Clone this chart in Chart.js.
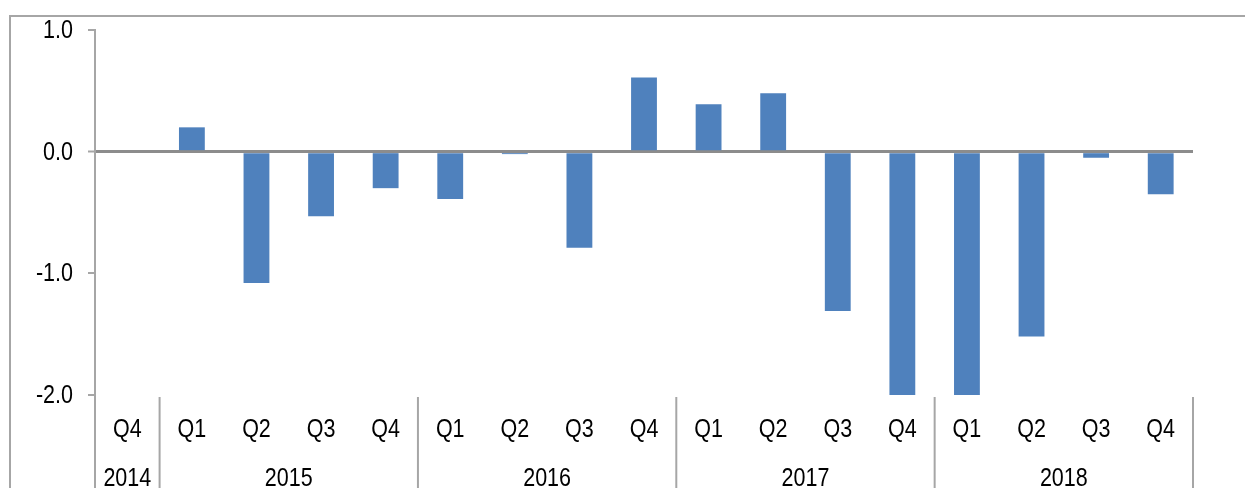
<!DOCTYPE html>
<html>
<head>
<meta charset="utf-8">
<script src="https://cdn.jsdelivr.net/npm/chart.js@4"></script>
<style>
  html, body { margin: 0; padding: 0; background: #fff; overflow: hidden; }
  #frame { position: absolute; left: 9px; top: 15px; width: 1400px; height: 600px; border: 2px solid #a6a6a6; box-sizing: border-box; }
  #wrap { position: absolute; left: 0; top: 0; width: 1245px; height: 488px; }
</style>
</head>
<body>
<div id="frame"></div>
<div id="wrap"><canvas id="chart" width="1245" height="488"></canvas></div>
<script>
const quarters = ["Q4", "Q1", "Q2", "Q3", "Q4", "Q1", "Q2", "Q3", "Q4", "Q1", "Q2", "Q3", "Q4", "Q1", "Q2", "Q3", "Q4"];
const values = [0, 0.2, -1.08, -0.53, -0.3, -0.39, -0.02, -0.79, 0.61, 0.39, 0.48, -1.31, -2.3, -2.2, -1.52, -0.05, -0.35];
const years = ["2014", "2015", "2016", "2017", "2018"];
const yearStart = [0, 1, 5, 9, 13];
const yearEnd = [0, 4, 8, 12, 16];

const lineGray = "#a6a6a6";
const fontFamily = "'Liberation Sans', Arial, sans-serif";
const fontSize = 25;
const squeeze = 0.86; // the source font is a narrow Arial

function narrowText(ctx, text, x, y, align) {
  ctx.save();
  ctx.translate(x, y);
  ctx.scale(squeeze, 1);
  ctx.textAlign = align;
  ctx.fillText(text, 0, 0);
  ctx.restore();
}

// axis labels, year row and separators
const axisText = {
  id: "axisText",
  afterDraw(chart) {
    const x = chart.scales.x;
    const y = chart.scales.y;
    const area = chart.chartArea;
    const ctx = chart.ctx;
    const half = (x.getPixelForValue(1) - x.getPixelForValue(0)) / 2;
    ctx.save();
    ctx.strokeStyle = lineGray;
    ctx.lineWidth = 2;
    // y axis line continues down
    ctx.beginPath();
    ctx.moveTo(area.left, area.bottom);
    ctx.lineTo(area.left, chart.height);
    ctx.stroke();
    yearEnd.forEach((e) => {
      const px = x.getPixelForValue(e) + half;
      ctx.beginPath();
      ctx.moveTo(px, area.bottom + 2);
      ctx.lineTo(px, chart.height);
      ctx.stroke();
    });
    ctx.fillStyle = "#000";
    ctx.font = fontSize + "px " + fontFamily;
    ctx.textBaseline = "alphabetic";
    y.ticks.forEach((t) => {
      narrowText(ctx, t.value.toFixed(1), area.left - 22, y.getPixelForValue(t.value) + 8, "right");
    });
    quarters.forEach((q, i) => {
      narrowText(ctx, q, x.getPixelForValue(i), area.bottom + 42, "center");
    });
    years.forEach((yr, i) => {
      const cx = (x.getPixelForValue(yearStart[i]) + x.getPixelForValue(yearEnd[i])) / 2;
      narrowText(ctx, yr, cx, area.bottom + 91, "center");
    });
    ctx.restore();
  }
};

new Chart(document.getElementById("chart"), {
  type: "bar",
  data: {
    labels: quarters,
    datasets: [{
      data: values,
      backgroundColor: "#4f81bd",
      barPercentage: 0.4,
      categoryPercentage: 1
    }]
  },
  options: {
    responsive: false,
    animation: false,
    layout: { padding: { left: 0, top: 30, right: 52, bottom: 0 } },
    plugins: { legend: { display: false }, tooltip: { enabled: false } },
    scales: {
      x: {
        grid: { display: false, drawTicks: false },
        border: { display: false },
        ticks: { display: false },
        afterFit(s) { s.height = 93; }
      },
      y: {
        min: -2,
        max: 1,
        ticks: { display: false, stepSize: 1 },
        grid: {
          color: (c) => (c.tick && c.tick.value === 0 ? "#8c8c8c" : "rgba(0,0,0,0)"),
          lineWidth: (c) => (c.tick && c.tick.value === 0 ? 3 : 0),
          tickColor: lineGray,
          tickLength: 7,
          tickWidth: 2
        },
        border: { display: true, color: lineGray, width: 2 },
        afterFit(s) { s.width = 95; }
      }
    }
  },
  plugins: [axisText]
});
</script>
</body>
</html>
